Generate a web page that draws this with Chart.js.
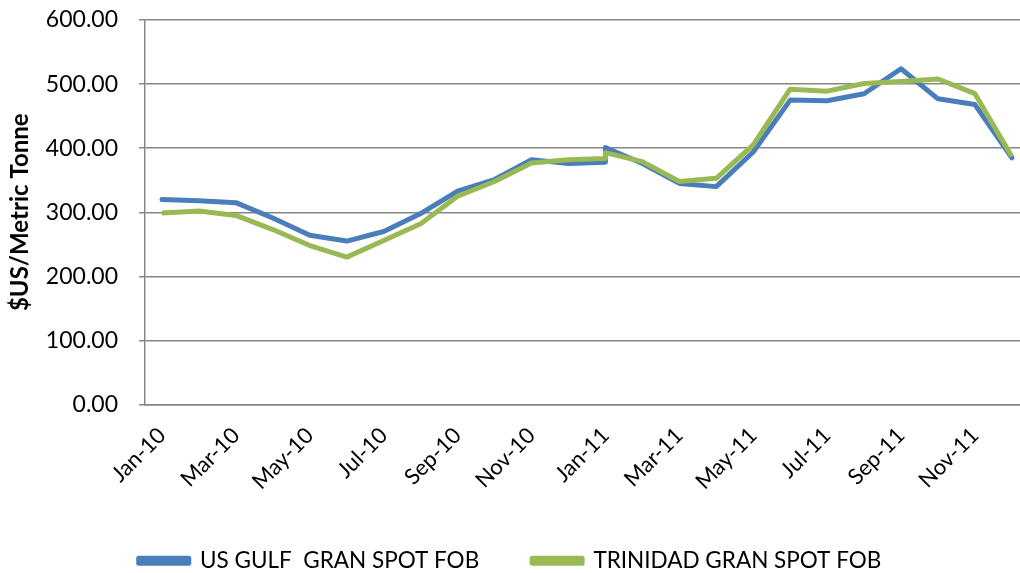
<!DOCTYPE html>
<html>
<head>
<meta charset="utf-8">
<script src="https://cdn.jsdelivr.net/npm/chart.js@4.4.0/dist/chart.umd.min.js"></script>
<style>
  html, body { margin: 0; padding: 0; background: #fff; }
  #wrap { width: 1020px; height: 573px; }
</style>
</head>
<body>
<div id="wrap"><canvas id="chartPrix" width="1020" height="573"></canvas></div>
<script>
// monthly periods (Jan-11 appears twice in the source series)
const periods = [
  'Jan-10', 'Feb-10', 'Mar-10', 'Apr-10', 'May-10', 'Jun-10', 'Jul-10', 'Aug-10',
  'Sep-10', 'Oct-10', 'Nov-10', 'Dec-10', 'Jan-11', 'Jan-11', 'Feb-11', 'Mar-11',
  'Apr-11', 'May-11', 'Jun-11', 'Jul-11', 'Aug-11', 'Sep-11', 'Oct-11', 'Nov-11', 'Dec-11'
];
const usGulf = [
  320, 318, 315, 291, 264, 255, 270, 298, 333, 351, 382, 376, 378,
  401, 376, 345, 340, 394, 475, 474, 485, 524, 477, 468, 385
];
const trinidad = [
  299, 302, 295, 273, 248, 230, 256, 282, 325, 348, 377, 382, 384,
  393, 379, 348, 353, 405, 492, 489, 501, 504, 508, 485, 387
];
const xTickLabels = ['Jan-10', 'Mar-10', 'May-10', 'Jul-10', 'Sep-10', 'Nov-10',
  'Jan-11', 'Mar-11', 'May-11', 'Jul-11', 'Sep-11', 'Nov-11'];
const yTicks = [0, 100, 200, 300, 400, 500, 600];

const MOIS = ['Jan','Feb','Mar','Apr','May','Jun','Jul','Aug','Sep','Oct','Nov','Dec'];
// 'Mmm-YY' -> month number counted from Jan-10
function indexMois(lbl) {
  const [m, a] = lbl.split('-');
  return (parseInt(a) - 10) * 12 + MOIS.indexOf(m);
}
const toPoints = (vals) => vals.map((v, i) => ({ x: indexMois(periods[i]), y: v }));

const gris = '#868686';
const police = 'Lato, "Liberation Sans", sans-serif';

const ctx = document.getElementById('chartPrix').getContext('2d');
new Chart(ctx, {
  type: 'line',
  data: {
    datasets: [{
      label: 'US GULF  GRAN SPOT FOB',
      data: toPoints(usGulf),
      borderColor: '#4A7EBB',
      backgroundColor: '#4A7EBB',
      borderWidth: 5,
      pointRadius: 0,
      borderCapStyle: 'round',
      borderJoinStyle: 'round',
      tension: 0,
      order: 1
    }, {
      label: 'TRINIDAD GRAN SPOT FOB',
      data: toPoints(trinidad),
      borderColor: '#98B954',
      backgroundColor: '#98B954',
      borderWidth: 5,
      pointRadius: 0,
      borderCapStyle: 'butt',
      borderJoinStyle: 'round',
      tension: 0,
      order: 0
    }]
  },
  options: {
    responsive: false,
    animation: false,
    layout: { padding: { left: 0, right: 0, top: 20, bottom: -9 } },
    plugins: {
      tooltip: { enabled: false },
      legend: {
        position: 'bottom',
        labels: {
          boxWidth: 50,
          boxHeight: 5,
          padding: 53,
          color: '#000',
          font: { family: police, size: 22.5 },
          sort: (a, b) => a.datasetIndex - b.datasetIndex
        }
      }
    },
    scales: {
      x: {
        type: 'linear',
        min: -0.46,
        max: 23.22,
        afterBuildTicks: (axis) => {
          axis.ticks = xTickLabels.map(l => ({ value: indexMois(l) }));
        },
        afterFit: (axis) => { axis.height = 92; },
        grid: { display: false },
        border: { display: true, color: gris, width: 1.5 },
        ticks: {
          autoSkip: false,
          maxRotation: 45,
          minRotation: 45,
          padding: 10,
          color: '#000',
          font: { family: police, size: 22 },
          callback: (v, i) => xTickLabels[i]
        }
      },
      y: {
        min: 0,
        max: 600,
        afterBuildTicks: (axis) => {
          axis.ticks = yTicks.map(v => ({ value: v }));
        },
        afterFit: (axis) => {
          axis.width = 145;
          axis.paddingTop = 0;
          axis.paddingBottom = 0;
        },
        grid: { color: gris, lineWidth: 1.5, tickLength: 6 },
        border: { display: true, color: gris, width: 1.5 },
        ticks: {
          padding: 21,
          color: '#000',
          font: { family: police, size: 23 },
          callback: (v) => v.toFixed(2)
        },
        title: {
          display: true,
          text: '$US/Metric Tonne',
          color: '#000',
          font: { family: police, size: 24, weight: 'bold' },
          padding: { top: 6, bottom: 0 }
        }
      }
    }
  }
});
</script>
</body>
</html>
